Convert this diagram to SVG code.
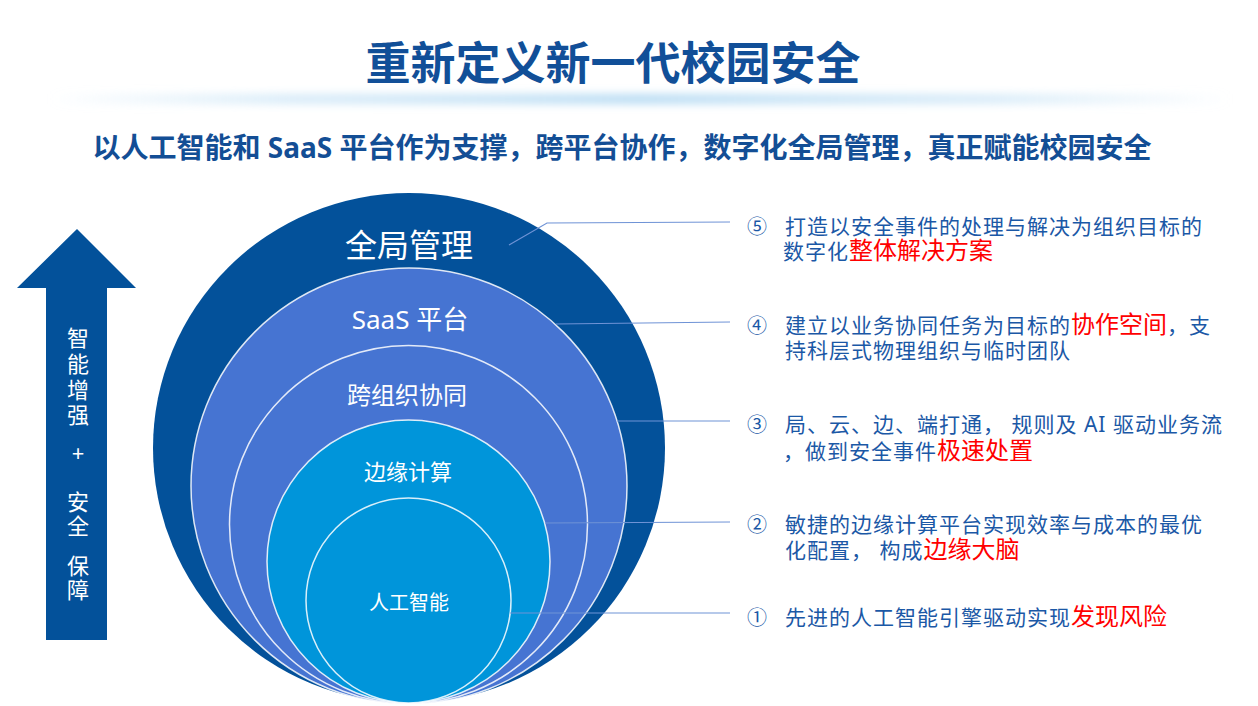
<svg xmlns="http://www.w3.org/2000/svg" width="1258" height="706" viewBox="0 0 1258 706">
<defs>
<style>
.t{font-family:"Noto Sans","Noto Sans CJK SC",sans-serif}
.title{font-size:45px;font-weight:bold;fill:#114F98}
.sub{font-size:28px;font-weight:bold;fill:#134E95}
.ring{stroke:#ffffff;stroke-opacity:0.85;stroke-width:1.5}
.cl{fill:#ffffff;text-anchor:middle}
.body{font-size:21px;letter-spacing:1px;fill:#1B58A6}
.num{font-size:20px;fill:#1B58A6}
.red{fill:#FF0000;font-size:24px;letter-spacing:0}
.conn{stroke:#6F93D6;stroke-width:1.2;fill:none}
.arw{fill:#03519A}
.at{font-size:22px;fill:#ffffff;text-anchor:middle}
</style>
<linearGradient id="glowH" x1="0" y1="0" x2="1" y2="0">
<stop offset="0" stop-color="#CFE7F7" stop-opacity="0"/>
<stop offset="0.2" stop-color="#CFE7F7" stop-opacity="0.8"/>
<stop offset="0.5" stop-color="#B8DCF3" stop-opacity="1"/>
<stop offset="0.8" stop-color="#CFE7F7" stop-opacity="0.8"/>
<stop offset="1" stop-color="#CFE7F7" stop-opacity="0"/>
</linearGradient>
<filter id="blur" x="-10%" y="-200%" width="120%" height="500%">
<feGaussianBlur stdDeviation="4"/>
</filter>
</defs>
<rect width="1258" height="706" fill="#ffffff"/>
<g id="header">
<rect x="50" y="94" width="1180" height="10" fill="url(#glowH)" filter="url(#blur)"/>
<text class="t title" x="613" y="80" text-anchor="middle">重新定义新一代校园安全</text>
<text class="t sub" x="622" y="158" text-anchor="middle">以人工智能和 SaaS 平台作为支撑，跨平台协作，数字化全局管理，真正赋能校园安全</text>
</g>
<g id="arrow">
<polygon class="arw" points="77,229 136,288 107,288 107,640 46,640 46,288 17,288"/>
<text class="t at" x="78" y="346">智</text>
<text class="t at" x="78" y="372">能</text>
<text class="t at" x="78" y="398">增</text>
<text class="t at" x="78" y="423">强</text>
<text class="t at" x="78" y="461">+</text>
<text class="t at" x="78" y="510">安</text>
<text class="t at" x="78" y="534">全</text>
<text class="t at" x="78" y="574">保</text>
<text class="t at" x="78" y="598">障</text>
</g>
<g id="circle-quanju">
<ellipse cx="409" cy="448" rx="256" ry="255" fill="#03519A"/>
<text class="t cl" x="409" y="257" font-size="32">全局管理</text>
</g>
<g id="circle-saas">
<circle class="ring" cx="409" cy="486" r="218" fill="#4674D2"/>
<text class="t cl" x="410" y="329" font-size="26">SaaS 平台</text>
</g>
<g id="circle-kuazuzhi">
<circle class="ring" cx="408.5" cy="524.5" r="179" fill="#4674D2"/>
<text class="t cl" x="407" y="404" font-size="24">跨组织协同</text>
</g>
<g id="circle-bianyuan">
<circle class="ring" cx="408.5" cy="561.5" r="141.5" fill="#0095DA"/>
<text class="t cl" x="408" y="480" font-size="22">边缘计算</text>
</g>
<g id="circle-ai">
<circle class="ring" cx="408.5" cy="600.5" r="102.5" fill="#0095DA"/>
<text class="t cl" x="409" y="610" font-size="20">人工智能</text>
</g>
<g id="connectors">
<polyline class="conn" points="509,245 547,223 730,222"/>
<line class="conn" x1="556" y1="324" x2="730" y2="322"/>
<line class="conn" x1="617" y1="421" x2="730" y2="421"/>
<line class="conn" x1="545" y1="523" x2="730" y2="522"/>
<line class="conn" x1="510" y1="613" x2="730" y2="613"/>
</g>
<g id="item5">
<text class="t num" x="747" y="234">⑤</text>
<text class="t body" x="785" y="234">打造以安全事件的处理与解决为组织目标的</text>
<text class="t body" x="783" y="259">数字化<tspan class="red">整体解决方案</tspan></text>
</g>
<g id="item4">
<text class="t num" x="747" y="333">④</text>
<text class="t body" x="785" y="333">建立以业务协同任务为目标的<tspan class="red">协作空间</tspan>，支</text>
<text class="t body" x="785" y="358">持科层式物理组织与临时团队</text>
</g>
<g id="item3">
<text class="t num" x="747" y="432">③</text>
<text class="t body" x="785" y="432">局、云、边、端打通， 规则及 AI 驱动业务流</text>
<text class="t body" x="783" y="459">，做到安全事件<tspan class="red">极速处置</tspan></text>
</g>
<g id="item2">
<text class="t num" x="747" y="532">②</text>
<text class="t body" x="785" y="532">敏捷的边缘计算平台实现效率与成本的最优</text>
<text class="t body" x="785" y="558">化配置， 构成<tspan class="red">边缘大脑</tspan></text>
</g>
<g id="item1">
<text class="t num" x="747" y="625">①</text>
<text class="t body" x="785" y="625">先进的人工智能引擎驱动实现<tspan class="red">发现风险</tspan></text>
</g>
</svg>
